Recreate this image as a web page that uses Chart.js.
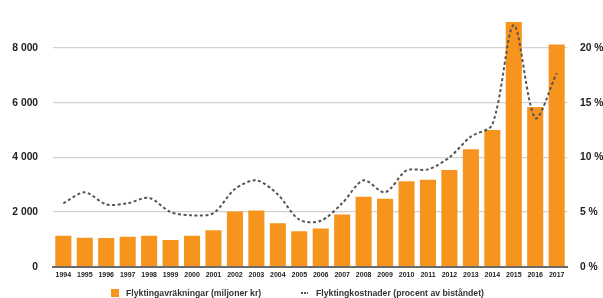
<!DOCTYPE html>
<html>
<head>
<meta charset="utf-8">
<script src="https://cdn.jsdelivr.net/npm/chart.js@4/dist/chart.umd.min.js"></script>
<style>
  html, body { margin: 0; padding: 0; background: #fff; }
  #wrap { position: relative; width: 603px; height: 298px; overflow: hidden; }
  #c { position: absolute; left: 0; top: 0; }
  .leg { position: absolute; font-family: "Liberation Sans", Arial, sans-serif; font-weight: bold; font-size: 8.7px; color: #333; white-space: nowrap; line-height: 10px; }
  .box { position: absolute; width: 8px; height: 8px; background: #F7941E; }
  .dash { position: absolute; width: 7px; height: 1.6px; background: repeating-linear-gradient(to right, #555 0 1.6px, transparent 1.6px 3px); }
</style>
</head>
<body>
<div id="wrap">
  <canvas id="c" width="603" height="298"></canvas>
  <div class="box" style="left:111px; top:289px;"></div>
  <div class="leg" style="left:126px; top:287.5px;">Flyktingavräkningar (miljoner kr)</div>
  <div class="dash" style="left:301px; top:292px;"></div>
  <div class="leg" style="left:316px; top:287.5px;">Flyktingkostnader (procent av biståndet)</div>
</div>
<script>
const years = ["1994","1995","1996","1997","1998","1999","2000","2001","2002","2003","2004","2005","2006","2007","2008","2009","2010","2011","2012","2013","2014","2015","2016","2017"];
const avrakningar = [1130,1060,1050,1100,1130,980,1130,1330,2020,2060,1590,1300,1400,1910,2560,2490,3130,3180,3540,4300,5000,8950,5840,8130];
const kostnaderPct = [5.8,6.8,5.7,5.8,6.3,5.0,4.7,4.9,7.1,7.9,6.6,4.3,4.2,5.8,7.9,6.8,8.8,8.9,10.0,11.9,13.0,22.1,13.6,17.7];
const leftTicks = [0,2000,4000,6000,8000];
const rightTicks = [0,5,10,15,20];

const fontFam = '"Liberation Sans", Arial, sans-serif';
function fmtThousands(v){ return String(v).replace(/\B(?=(\d{3})+(?!\d))/g, ' '); }

new Chart(document.getElementById('c'), {
  data: {
    labels: years,
    datasets: [
      {
        type: 'line',
        label: 'Flyktingkostnader (procent av biståndet)',
        data: kostnaderPct,
        yAxisID: 'y1',
        borderColor: '#555555',
        borderWidth: 2,
        borderDash: [3, 2.5],
        pointRadius: 0,
        tension: 0.3,
        fill: false,
        order: 0
      },
      {
        type: 'bar',
        label: 'Flyktingavräkningar (miljoner kr)',
        data: avrakningar,
        yAxisID: 'y',
        backgroundColor: '#F7941E',
        borderWidth: 0,
        barPercentage: 0.75,
        categoryPercentage: 1.0,
        order: 1
      }
    ]
  },
  options: {
    responsive: false,
    animation: false,
    layout: { padding: { top: 12.45, left: 0, right: 0, bottom: 16 } },
    plugins: { legend: { display: false }, tooltip: { enabled: false } },
    scales: {
      x: {
        offset: true,
        grid: { display: false, drawTicks: false },
        border: { display: true, color: '#6b6b6b', width: 2 },
        ticks: { color: '#222', font: { family: fontFam, size: 7, weight: 'bold' }, padding: 4, maxRotation: 0, autoSkip: false },
        afterFit: (s) => { s.height = 15.3; }
      },
      y: {
        position: 'left',
        min: 0, max: 9000,
        afterBuildTicks: (s) => { s.ticks = leftTicks.map(v => ({ value: v })); },
        grid: {
          drawTicks: false,
          color: (ctx) => ctx.tick && ctx.tick.value === 0 ? 'rgba(0,0,0,0)' : '#d2d2d2',
          lineWidth: 1.2
        },
        border: { display: false },
        ticks: { color: '#222', font: { family: fontFam, size: 10.3, weight: 'bold' }, padding: 14.5, callback: (v) => fmtThousands(v) },
        afterFit: (s) => { s.width = 52.6; }
      },
      y1: {
        position: 'right',
        min: 0, max: 22.5,
        afterBuildTicks: (s) => { s.ticks = rightTicks.map(v => ({ value: v })); },
        grid: { display: false, drawTicks: false },
        border: { display: false },
        ticks: { color: '#222', font: { family: fontFam, size: 10.3, weight: 'bold' }, padding: 12.6, callback: (v) => v + ' %' },
        afterFit: (s) => { s.width = 35.6; }
      }
    }
  }
});
</script>
</body>
</html>
